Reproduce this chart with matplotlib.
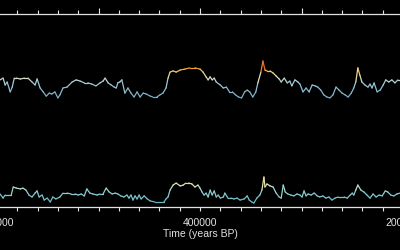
import numpy as np
import matplotlib.pyplot as plt
from matplotlib.collections import LineCollection
from matplotlib.colors import LinearSegmentedColormap, Normalize
from matplotlib.ticker import MultipleLocator, FuncFormatter

# Temperature anomaly (deg C) vs time (kyr BP)
t_temp = [597, 594, 592, 590, 587, 585, 583, 581, 577, 573, 569.5, 565.5, 562.5, 560.5, 557.5,
          554.5, 551.5, 548.5, 546, 543, 540, 538, 535, 531, 526, 522, 518, 514, 510.5, 506.5,
          502.5, 498.5, 495.5, 493.5, 490.5, 487.5, 484.5, 482.5, 481, 479, 477, 474, 471, 468,
          465, 462, 459, 456, 453, 449, 446.5, 442.5, 439.5, 436.5, 433.5, 431.5, 429.5, 426.5,
          423.5, 419.5, 415, 410, 405, 400, 397, 394, 392, 390, 388, 386, 384, 380, 377, 374,
          371, 368, 365, 362, 359, 356, 353.5, 351, 348, 345, 343, 340, 338, 336, 334, 331, 328,
          325, 322, 320, 317, 314, 311.5, 309.5, 306.5, 303.5, 301.5, 298.5, 295.5, 292.5, 289.5,
          286.5, 284, 281, 278, 275, 272, 269, 266, 263, 260, 257, 254, 251, 248.5, 246.5, 244.5,
          242.5, 240.5, 237.5, 234.5, 232.5, 230.5, 228.5, 225.5, 222.5, 219.5, 217, 214, 211,
          208, 205, 203]
temp = [-3.3, -2.7, -5.0, -4.0, -7.3, -5.7, -2.7, -2.7, -3.0, -2.7, -2.7, -4.0, -5.0, -3.0, -6.0,
        -7.3, -8.7, -7.7, -8.0, -7.3, -9.3, -8.3, -6.0, -5.7, -4.0, -3.3, -3.7, -4.3, -4.3, -4.7,
        -5.3, -4.3, -3.7, -2.7, -4.3, -5.0, -5.7, -6.0, -4.3, -4.0, -3.3, -7.7, -6.0, -7.7, -9.0,
        -7.3, -9.0, -7.7, -8.0, -8.7, -9.0, -9.0, -8.3, -7.7, -6.0, -2.7, -0.7, -0.3, -0.7, 0.0,
        0.3, 0.7, 0.7, 0.3, -0.7, -2.3, -3.3, -2.3, -3.3, -2.7, -4.0, -5.0, -6.0, -5.7, -7.3,
        -7.3, -8.3, -9.0, -9.3, -7.3, -6.7, -7.3, -9.0, -7.3, -4.3, -0.7, 3.0, 0.0, -0.3, -0.3,
        -1.0, -2.0, -3.0, -4.0, -2.7, -4.3, -3.7, -5.3, -3.3, -4.0, -4.7, -7.3, -6.0, -7.3, -5.0,
        -5.3, -5.7, -6.7, -8.3, -9.0, -9.3, -8.3, -5.7, -6.7, -7.7, -8.3, -9.0, -7.7, -6.0, -4.0,
        0.7, -1.7, -4.0, -5.0, -5.7, -4.7, -6.0, -4.3, -7.3, -6.7, -5.0, -3.3, -4.0, -3.3, -4.3,
        -3.3, -3.3]

# CO2 (ppmv) vs time (kyr BP)
t_co2 = [597, 594, 592, 589, 586, 584, 581, 577, 574.5, 571.5, 568.5, 565.5, 562.5, 560.5, 558.5,
         555.5, 553.5, 550.5, 547.5, 545, 542, 538, 535, 531, 527, 523, 520, 517, 514, 511.5,
         508.5, 505.5, 501.5, 498.5, 495.5, 492.5, 489.5, 486.5, 483.5, 481, 478, 475, 472, 470,
         468, 466, 464, 462, 460, 458, 455, 452, 449, 444.5, 439.5, 435.5, 433.5, 431.5, 429.5,
         426.5, 423.5, 419.5, 416.5, 414, 411, 408, 405, 402, 400, 398, 396, 394, 392, 390, 388,
         386, 384, 382, 380, 377, 375.5, 372.5, 369.5, 366.5, 363.5, 360.5, 356.5, 353.5, 351.5,
         349, 347, 344, 341, 339, 337, 336, 334, 331, 328, 325, 322, 320, 318, 316, 313.5, 310.5,
         307.5, 304.5, 301.5, 299.5, 297.5, 295.5, 293.5, 290.5, 287.5, 284.5, 282, 279, 276, 273,
         270, 267, 264, 261, 258, 255, 252, 250, 248.5, 246.5, 244.5, 241.5, 238.5, 235.5, 232.5,
         229.5, 226.5, 223.5, 220.5, 217.5, 215, 212, 209, 206, 203]
co2 = [222, 203, 217, 217, 217, 254, 249, 245, 249, 240, 217, 208, 226, 236, 208, 217, 194, 203,
       185, 208, 199, 208, 226, 226, 222, 222, 217, 222, 213, 245, 226, 222, 217, 222, 222, 249,
       231, 222, 226, 222, 213, 208, 217, 203, 217, 194, 213, 199, 217, 199, 213, 199, 190, 185,
       185, 185, 199, 208, 240, 263, 272, 259, 263, 272, 272, 268, 254, 263, 249, 231, 217, 226,
       208, 240, 217, 236, 208, 217, 203, 208, 226, 203, 203, 199, 203, 194, 199, 213, 194, 185,
       180, 203, 217, 240, 300, 254, 268, 259, 254, 226, 208, 203, 263, 231, 222, 217, 213, 222,
       217, 208, 236, 213, 222, 217, 226, 213, 208, 213, 203, 208, 194, 203, 208, 208, 208, 203,
       217, 226, 217, 240, 263, 240, 231, 217, 203, 222, 208, 217, 213, 236, 231, 217, 213, 222,
       226]

fg = '#e2e2e2'
cmap_t = LinearSegmentedColormap.from_list(
    'temp', [(0.0, '#74a9c4'), (0.4, '#9ccadb'), (0.56, '#e3e2c2'), (0.7, '#f0cf6a'),
             (0.8, '#eea232'), (0.92, '#e0441f'), (1.0, '#d01a18')])
cmap_c = LinearSegmentedColormap.from_list(
    'co2', [(0.0, '#63b5c2'), (0.45, '#92d2d6'), (0.7, '#dfe6b8'), (1.0, '#f2d468')])

fig = plt.figure(figsize=(4, 2.5), dpi=100, facecolor='black')
ax = fig.add_axes([-0.05825, 0.172, 1.1165, 0.772])
ax.set_facecolor('black')
ax2 = ax.twinx()


def colored_line(axis, t, v, cmap, norm):
    x = np.array(t) * 1000.0
    y = np.array(v, dtype=float)
    pts = np.column_stack([x, y]).reshape(-1, 1, 2)
    segs = np.concatenate([pts[:-1], pts[1:]], axis=1)
    lc = LineCollection(segs, cmap=cmap, norm=norm, linewidth=0.9, capstyle='round')
    lc.set_array((y[:-1] + y[1:]) / 2)
    axis.add_collection(lc)


colored_line(ax, t_temp, temp, cmap_t, Normalize(-9.5, 3.2))
colored_line(ax2, t_co2, co2, cmap_c, Normalize(180, 300))

ax.set_xlim(620000, 180000)
ax.set_ylim(-45.67, 18.67)
ax2.set_ylim(162, 1050)

for a in (ax, ax2):
    for s in a.spines.values():
        s.set_visible(False)
    a.set_yticks([])
ax.spines['bottom'].set_visible(True)
ax.spines['bottom'].set_color(fg)
ax.spines['bottom'].set_linewidth(0.9)

fam = ['Liberation Sans', 'DejaVu Sans']
ax.xaxis.set_major_locator(MultipleLocator(200000))
ax.xaxis.set_minor_locator(MultipleLocator(20000))
ax.xaxis.set_major_formatter(FuncFormatter(lambda v, p: f'{int(v)}'))
ax.tick_params(axis='x', which='both', colors=fg, direction='out', length=3.2,
               width=0.8, labelsize=7.5, pad=4.5)
ax.set_xlabel('Time (years BP)', color=fg, fontsize=7.5, labelpad=1, family=fam)
for lbl in ax.get_xticklabels():
    lbl.set_family(fam)

top = ax.secondary_xaxis('top')
top.spines['top'].set_color(fg)
top.spines['top'].set_linewidth(0.9)
top.xaxis.set_major_locator(MultipleLocator(100000))
top.xaxis.set_minor_locator(MultipleLocator(20000))
top.tick_params(axis='x', which='major', colors=fg, direction='out', length=4, width=0.8,
                labeltop=False)
top.tick_params(axis='x', which='minor', colors=fg, direction='out', length=2.6, width=0.8)

fig.savefig('out.png', dpi=100, facecolor='black')
